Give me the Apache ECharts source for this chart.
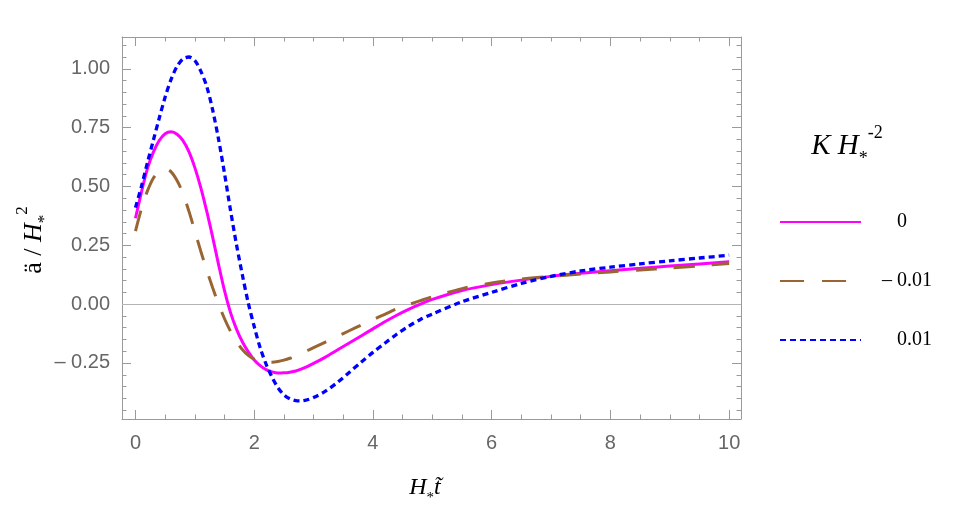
<!DOCTYPE html>
<html><head><meta charset="utf-8">
<script src="https://cdn.jsdelivr.net/npm/echarts@6/dist/echarts.min.js"></script>
<style>html,body{margin:0;padding:0;background:#fff}#c{width:953px;height:517px}</style>
</head><body><div id="c"></div>
<script>
// ---- data ----
const tVals = [0, 0.1, 0.2, 0.3, 0.4, 0.5, 0.6, 0.7, 0.8, 0.9, 1.0, 1.1, 1.2, 1.3, 1.4, 1.5, 1.6, 1.7, 1.8, 1.9, 2.0, 2.1, 2.2, 2.3, 2.4, 2.5, 2.6, 2.7, 2.8, 2.9, 3.0, 3.2, 3.4, 3.6, 3.8, 4.0, 4.2, 4.4, 4.6, 4.8, 5.0, 5.5, 6.0, 6.5, 7.0, 7.5, 8.0, 8.5, 9.0, 9.5, 10.0];
const accelK0 = [0.365, 0.475, 0.575, 0.645, 0.695, 0.724, 0.732, 0.722, 0.695, 0.648, 0.58, 0.495, 0.395, 0.285, 0.168, 0.057, -0.035, -0.105, -0.16, -0.203, -0.237, -0.261, -0.278, -0.288, -0.293, -0.292, -0.289, -0.284, -0.275, -0.264, -0.252, -0.225, -0.195, -0.165, -0.135, -0.105, -0.075, -0.047, -0.022, 0.0, 0.02, 0.058, 0.083, 0.102, 0.118, 0.131, 0.142, 0.152, 0.162, 0.171, 0.18];
const accelKneg = [0.31, 0.405, 0.48, 0.535, 0.565, 0.575, 0.562, 0.525, 0.47, 0.395, 0.31, 0.225, 0.145, 0.07, 0.0, -0.062, -0.115, -0.158, -0.193, -0.218, -0.234, -0.243, -0.247, -0.247, -0.244, -0.238, -0.23, -0.22, -0.209, -0.197, -0.185, -0.161, -0.137, -0.113, -0.089, -0.066, -0.043, -0.02, -0.002, 0.015, 0.031, 0.066, 0.09, 0.106, 0.118, 0.128, 0.137, 0.145, 0.153, 0.163, 0.173];
const accelKpos = [0.41, 0.50, 0.60, 0.695, 0.79, 0.88, 0.955, 1.01, 1.042, 1.05, 1.035, 0.99, 0.925, 0.825, 0.70, 0.555, 0.40, 0.255, 0.125, 0.005, -0.095, -0.185, -0.255, -0.31, -0.355, -0.385, -0.402, -0.41, -0.411, -0.406, -0.397, -0.37, -0.333, -0.29, -0.247, -0.205, -0.166, -0.128, -0.094, -0.065, -0.042, 0.01, 0.05, 0.088, 0.118, 0.141, 0.157, 0.171, 0.184, 0.196, 0.208];
const seriesNames = ['0', '– 0.01', '0.01'];
const xMajorTicks = [0, 2, 4, 6, 8, 10];
const xMinorTicks = [0.5, 1, 1.5, 2.5, 3, 3.5, 4.5, 5, 5.5, 6.5, 7, 7.5, 8.5, 9, 9.5];
const yMajorTicks = [-0.25, 0, 0.25, 0.5, 0.75, 1.0];
const yMinorTicks = [-0.45, -0.4, -0.35, -0.3, -0.2, -0.15, -0.1, -0.05, 0.05, 0.1, 0.15, 0.2, 0.3, 0.35, 0.4, 0.45, 0.55, 0.6, 0.65, 0.7, 0.8, 0.85, 0.9, 0.95, 1.05, 1.1];

const X_MIN = -0.227, X_MAX = 10.2, Y_MIN = -0.488, Y_MAX = 1.135;
const FRAME = '#9a9a9a', LABEL = '#666666';
const sans = 'Liberation Sans, Arial, sans-serif';

function pairs(arr) { return tVals.map((t, i) => [t, arr[i]]); }

function xAx(pos, ticks, len, showLabel, showLine) {
  return {
    type: 'value', position: pos, min: X_MIN, max: X_MAX,
    axisLine: { show: showLine, onZero: false, lineStyle: { color: FRAME, width: 1 } },
    axisTick: { show: true, inside: true, length: len, customValues: ticks, lineStyle: { color: FRAME, width: 1 } },
    axisLabel: showLabel ? { show: true, customValues: ticks, color: LABEL, fontSize: 20, fontFamily: sans, margin: 14 } : { show: false },
    splitLine: { show: false }
  };
}
function yAx(pos, ticks, len, showLabel, showLine) {
  return {
    type: 'value', position: pos, min: Y_MIN, max: Y_MAX,
    axisLine: { show: showLine, onZero: false, lineStyle: { color: FRAME, width: 1 } },
    axisTick: { show: true, inside: true, length: len, customValues: ticks, lineStyle: { color: FRAME, width: 1 } },
    axisLabel: showLabel ? {
      show: true, customValues: ticks, color: LABEL, fontSize: 20, fontFamily: sans, margin: 12,
      formatter: v => (v < -1e-9 ? '– ' + Math.abs(v).toFixed(2) : Math.abs(v).toFixed(2))
    } : { show: false },
    splitLine: { show: false }
  };
}

const serif = 'Liberation Serif, Times New Roman, serif';
function richMath(big, small) {
  return {
    n: { fontFamily: serif, fontSize: big, lineHeight: Math.round(big * 1.5), color: '#000' },
    i: { fontFamily: serif, fontSize: big, fontStyle: 'italic', lineHeight: Math.round(big * 1.5), color: '#000' },
    s: { fontFamily: serif, fontSize: small, lineHeight: small, verticalAlign: 'bottom', color: '#000' },
    p: { fontFamily: serif, fontSize: small, lineHeight: small, verticalAlign: 'top', color: '#000' }
  };
}

const chart = echarts.init(document.getElementById('c'), null, { renderer: 'canvas' });
chart.setOption({
  animation: false,
  backgroundColor: '#fff',
  grid: { left: 122, right: 212, top: 37, bottom: 98, containLabel: false },
  xAxis: [
    xAx('bottom', xMajorTicks, 9, true, true),
    xAx('bottom', xMinorTicks, 4.5, false, false),
    xAx('top', xMajorTicks, 9, false, true),
    xAx('top', xMinorTicks, 4.5, false, false)
  ],
  yAxis: [
    yAx('left', yMajorTicks, 9, true, true),
    yAx('left', yMinorTicks, 4.5, false, false),
    yAx('right', yMajorTicks, 9, false, true),
    yAx('right', yMinorTicks, 4.5, false, false)
  ],
  legend: {
    orient: 'vertical', left: 779, top: 212, padding: 0,
    itemWidth: 81, itemHeight: 14, itemGap: 39,
    itemStyle: { color: 'rgba(0,0,0,0)', borderColor: 'rgba(0,0,0,0)', borderWidth: 0, opacity: 0 },
    data: [
      { name: seriesNames[0] },
      { name: seriesNames[1], lineStyle: { type: [24, 18] } },
      { name: seriesNames[2], lineStyle: { type: [6, 4] } }
    ],
    formatter: n => (n.charAt(0) === '–' ? '{d|–}{t|' + n.slice(2) + '}' : '{u|' + n + '}'),
    textStyle: {
      rich: {
        d: { fontFamily: serif, fontSize: 20, lineHeight: 14, color: '#000', padding: [0, 0, 0, 16] },
        t: { fontFamily: serif, fontSize: 20, lineHeight: 14, color: '#000', padding: [0, 0, 0, 5] },
        u: { fontFamily: serif, fontSize: 20, lineHeight: 14, color: '#000', padding: [0, 0, 0, 31] }
      }
    }
  },
  series: [
    {
      name: seriesNames[0], type: 'line', data: pairs(accelK0), smooth: 0.3, showSymbol: false, symbol: 'none',
      lineStyle: { color: '#ff00ff', width: 3 }, itemStyle: { color: '#ff00ff' },
      markLine: { silent: true, symbol: 'none', label: { show: false }, lineStyle: { color: '#b4b4b4', width: 1, type: 'solid' }, data: [{ yAxis: 0 }], z: 1 },
      z: 3
    },
    {
      name: seriesNames[1], type: 'line', data: pairs(accelKneg), smooth: 0.3, showSymbol: false, symbol: 'none',
      lineStyle: { color: '#996633', width: 3, type: [21, 17] }, itemStyle: { color: '#996633' }, z: 4
    },
    {
      name: seriesNames[2], type: 'line', data: pairs(accelKpos), smooth: 0.3, showSymbol: false, symbol: 'none',
      lineStyle: { color: '#0000ff', width: 3.3, type: [6, 4] }, itemStyle: { color: '#0000ff' }, z: 5
    }
  ],
  graphic: [
    {
      type: 'text', x: 34, y: 240, rotation: Math.PI / 2,
      style: { text: '{n|ä / }{i|H}{s|*}{p|2}', rich: richMath(26, 17), align: 'center', verticalAlign: 'middle' }
    },
    {
      type: 'text', x: 425, y: 488,
      style: { text: '{i|H}{s|*}{i|t\u0303}', rich: richMath(24, 15), align: 'center', verticalAlign: 'middle' }
    },
    {
      type: 'text', x: 847, y: 146,
      style: { text: '{i|K}{n| }{i|H}{s|*}{p|-2}', rich: richMath(29, 18), align: 'center', verticalAlign: 'middle' }
    }
  ]
});
</script>
</body></html>
